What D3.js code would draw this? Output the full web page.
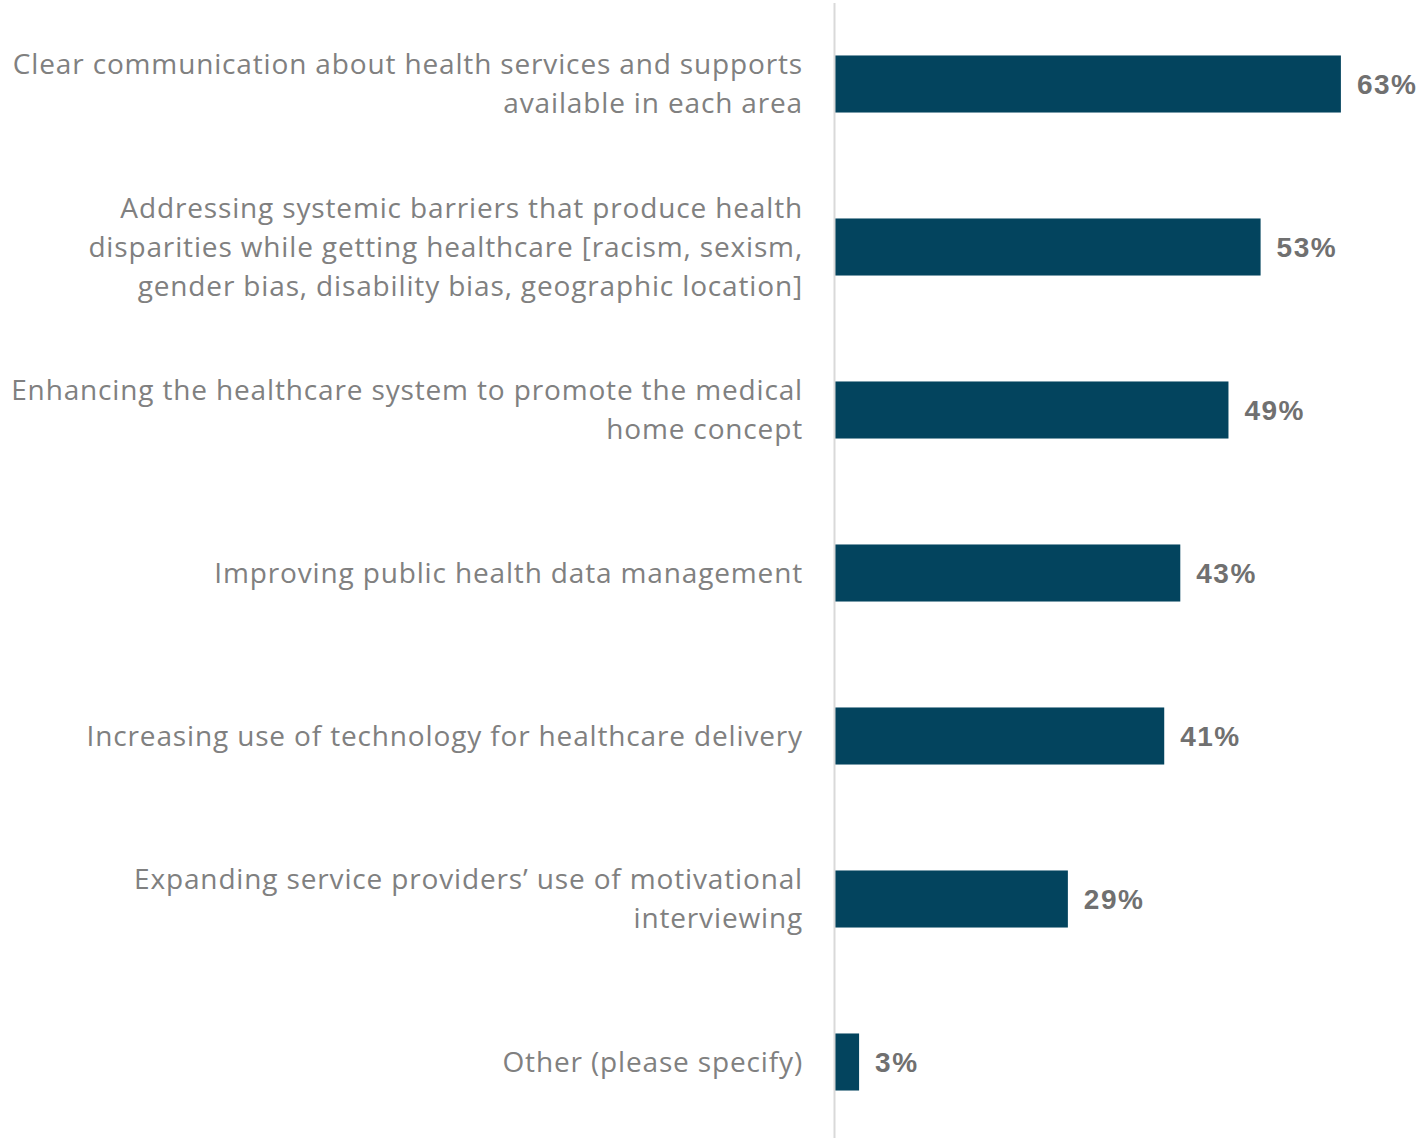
<!DOCTYPE html>
<html>
<head>
<meta charset="utf-8">
<script src="https://cdn.jsdelivr.net/npm/d3@7"></script>
<style>
  html, body { margin: 0; padding: 0; background: #ffffff; }
  svg { display: block; }
</style>
</head>
<body>
<div id="chart"></div>
<script>
// Survey responses: share of respondents choosing each priority
const categories = [
  "Clear communication",
  "Systemic barriers",
  "Medical home",
  "Public health data",
  "Technology",
  "Motivational interviewing",
  "Other"
];
const labelLines = [
  ["Clear communication about health services and supports", "available in each area"],
  ["Addressing systemic barriers that produce health", "disparities while getting healthcare [racism, sexism,", "gender bias, disability bias, geographic location]"],
  ["Enhancing the healthcare system to promote the medical", "home concept"],
  ["Improving public health data management"],
  ["Increasing use of technology for healthcare delivery"],
  ["Expanding service providers\u2019 use of motivational", "interviewing"],
  ["Other (please specify)"]
];
const values = [63, 53, 49, 43, 41, 29, 3];

const width = 1423, height = 1138;
const axisX = 834.5;

const svg = d3.select("#chart").append("svg")
  .attr("width", width)
  .attr("height", height);

const x = d3.scaleLinear().domain([0, 100]).range([835, 835 + 803]);
const y = d3.scaleBand()
  .domain(categories)
  .range([2.5, 1143.5])
  .paddingInner(0.65)
  .paddingOuter(0.325);

const rows = categories.map((c, i) => ({ cat: c, value: values[i], lines: labelLines[i] }));

// bars
svg.append("g").selectAll("rect")
  .data(rows)
  .join("rect")
  .attr("x", x(0))
  .attr("y", d => y(d.cat))
  .attr("width", d => x(d.value) - x(0))
  .attr("height", y.bandwidth())
  .attr("fill", "#03445e");

// vertical category axis line
svg.append("line")
  .attr("x1", axisX).attr("x2", axisX)
  .attr("y1", 3).attr("y2", height)
  .attr("stroke", "#d9d9d9")
  .attr("stroke-width", 2);

// category labels, right-aligned beside the axis
const lineGap = 39;
const labels = svg.append("g")
  .attr("font-family", "'Open Sans', 'Noto Sans', sans-serif")
  .attr("font-size", 28)
  .attr("letter-spacing", "0.85px")
  .attr("fill", "#808080")
  .attr("text-anchor", "end");

rows.forEach(d => {
  const cy = y(d.cat) + y.bandwidth() / 2;
  const n = d.lines.length;
  labels.append("text")
    .selectAll("tspan")
    .data(d.lines)
    .join("tspan")
    .attr("x", 803)
    .attr("y", (t, j) => cy + (j - (n - 1) / 2) * lineGap)
    .attr("dy", "0.35em")
    .text(t => t);
});

// value labels
svg.append("g")
  .attr("font-family", "'Liberation Sans', Arial, sans-serif")
  .attr("font-weight", "bold")
  .attr("font-size", 28)
  .attr("letter-spacing", "1.5px")
  .attr("fill", "#707070")
  .selectAll("text")
  .data(rows)
  .join("text")
  .attr("x", d => x(d.value) + 16)
  .attr("y", d => y(d.cat) + y.bandwidth() / 2)
  .attr("dy", "0.36em")
  .text(d => d.value + "%");
</script>
</body>
</html>
